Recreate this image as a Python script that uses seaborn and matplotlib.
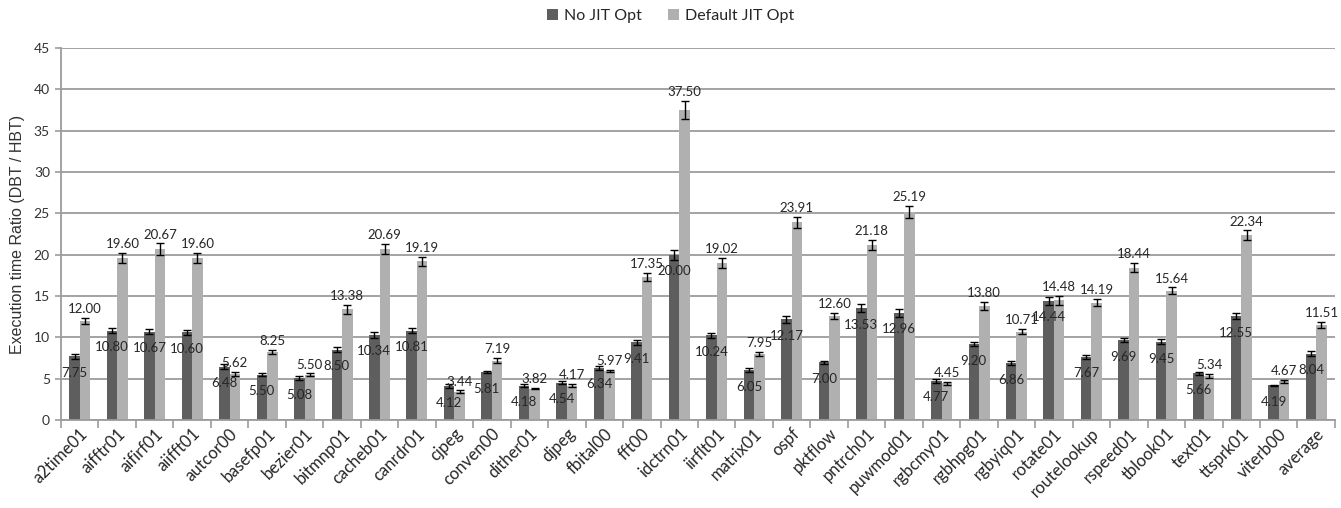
import numpy as np
import pandas as pd
import matplotlib
matplotlib.use("Agg")
import matplotlib.pyplot as plt
from matplotlib.ticker import FixedLocator, MultipleLocator
import seaborn as sns

# EEMBC benchmark execution-time ratios (DBT / HBT)
benchmarks = [
    "a2time01", "aifftr01", "aifirf01", "aiifft01", "autcor00", "basefp01",
    "bezier01", "bitmnp01", "cacheb01", "canrdr01", "cjpeg", "conven00",
    "dither01", "djpeg", "fbital00", "fft00", "idctrn01", "iirflt01",
    "matrix01", "ospf", "pktflow", "pntrch01", "puwmod01", "rgbcmy01",
    "rgbhpg01", "rgbyiq01", "rotate01", "routelookup", "rspeed01",
    "tblook01", "text01", "ttsprk01", "viterb00", "average",
]
no_jit = [
    7.75, 10.80, 10.67, 10.60, 6.48, 5.50, 5.08, 8.50, 10.34, 10.81,
    4.12, 5.81, 4.18, 4.54, 6.34, 9.41, 20.00, 10.24, 6.05, 12.17,
    7.00, 13.53, 12.96, 4.77, 9.20, 6.86, 14.44, 7.67, 9.69, 9.45,
    5.66, 12.55, 4.19, 8.04,
]
default_jit = [
    12.00, 19.60, 20.67, 19.60, 5.62, 8.25, 5.50, 13.38, 20.69, 19.19,
    3.44, 7.19, 3.82, 4.17, 5.97, 17.35, 37.50, 19.02, 7.95, 23.91,
    12.60, 21.18, 25.19, 4.45, 13.80, 10.71, 14.48, 14.19, 18.44, 15.64,
    5.34, 22.34, 4.67, 11.51,
]
no_jit_err = [
    0.30, 0.30, 0.30, 0.35, 0.30, 0.20, 0.20, 0.30, 0.35, 0.30,
    0.20, 0.15, 0.15, 0.20, 0.25, 0.30, 0.60, 0.25, 0.25, 0.40,
    0.20, 0.50, 0.50, 0.25, 0.20, 0.25, 0.50, 0.25, 0.30, 0.30,
    0.20, 0.35, 0.10, 0.30,
]
default_jit_err = [
    0.35, 0.60, 0.70, 0.60, 0.25, 0.20, 0.15, 0.50, 0.60, 0.55,
    0.15, 0.30, 0.10, 0.15, 0.10, 0.50, 1.10, 0.60, 0.25, 0.70,
    0.40, 0.60, 0.70, 0.15, 0.45, 0.35, 0.50, 0.45, 0.55, 0.40,
    0.20, 0.60, 0.20, 0.40,
]
series_names = ["No JIT Opt", "Default JIT Opt"]
series_colors = ["#5e5e5e", "#b0b0b0"]

df = pd.DataFrame({
    "benchmark": benchmarks * 2,
    "ratio": no_jit + default_jit,
    "config": [series_names[0]] * len(benchmarks) + [series_names[1]] * len(benchmarks),
})

sns.set_style("white")
plt.rcParams["font.family"] = ["Lato", "DejaVu Sans"]

fig = plt.figure(figsize=(13.41, 5.08), dpi=100)
ax = fig.add_axes([0.0455, 0.173, 0.95, 0.7325])

sns.barplot(
    data=df, x="benchmark", y="ratio", hue="config",
    hue_order=series_names, palette=series_colors,
    width=0.56, gap=0, errorbar=None, saturation=1,
    linewidth=0, ax=ax, zorder=2,
)

grid_color = "#9c9c9c"
ax.set_ylim(0, 45)
ax.set_xlim(-0.5, len(benchmarks) - 0.5)
ax.yaxis.set_major_locator(MultipleLocator(5))
ax.grid(axis="y", color=grid_color, linewidth=1.3, zorder=0)
ax.set_axisbelow(True)

# error bars and value labels on each series
errs = [no_jit_err, default_jit_err]
for i, (container, err) in enumerate(zip(ax.containers, errs)):
    xs = [p.get_x() + p.get_width() / 2 for p in container.patches]
    hs = [p.get_height() for p in container.patches]
    ax.errorbar(xs, hs, yerr=err, fmt="none", ecolor="black",
                elinewidth=1.0, capsize=3, capthick=1.0, zorder=3)
    for x, h, e in zip(xs, hs, err):
        if i == 0:
            ax.text(x, h - 2.0, f"{h:.2f}", ha="center", va="center",
                    fontsize=9.5, color="#262626", zorder=4)
        else:
            ax.text(x, h + e + 0.35, f"{h:.2f}", ha="center", va="bottom",
                    fontsize=9.5, color="#262626", zorder=4)

# spines and ticks
for side in ["top", "right"]:
    ax.spines[side].set_visible(False)
for side in ["left", "bottom"]:
    ax.spines[side].set_color(grid_color)
    ax.spines[side].set_linewidth(1.3)

ax.xaxis.set_minor_locator(FixedLocator(np.arange(-0.5, len(benchmarks), 1.0)))
ax.tick_params(axis="x", which="major", length=0, pad=4)
ax.tick_params(axis="x", which="minor", length=6, width=1.2, color=grid_color,
               direction="out", bottom=True)
ax.tick_params(axis="y", which="major", length=4, width=1.2, color=grid_color,
               direction="out", left=True, labelsize=10, labelcolor="#333333", pad=4)
plt.setp(ax.get_xticklabels(), rotation=45, ha="right", rotation_mode="anchor",
         fontsize=12, color="#262626")

ax.set_xlabel("")
ax.set_ylabel("Execution time Ratio (DBT / HBT)", fontsize=11.5,
              family=["Liberation Sans", "DejaVu Sans"], color="#333333")
ax.yaxis.set_label_coords(-0.028, 0.5)

# legend above the plot
handles, labels = ax.get_legend_handles_labels()
if ax.legend_ is not None:
    ax.legend_.remove()
fig.legend(handles, labels, loc="center", bbox_to_anchor=(0.5, 0.968),
           ncol=2, frameon=False, fontsize=11.5, handlelength=0.7,
           handleheight=0.7, handletextpad=0.4, columnspacing=1.6,
           labelcolor="#262626")

fig.savefig("out.png", dpi=100, facecolor="white")
